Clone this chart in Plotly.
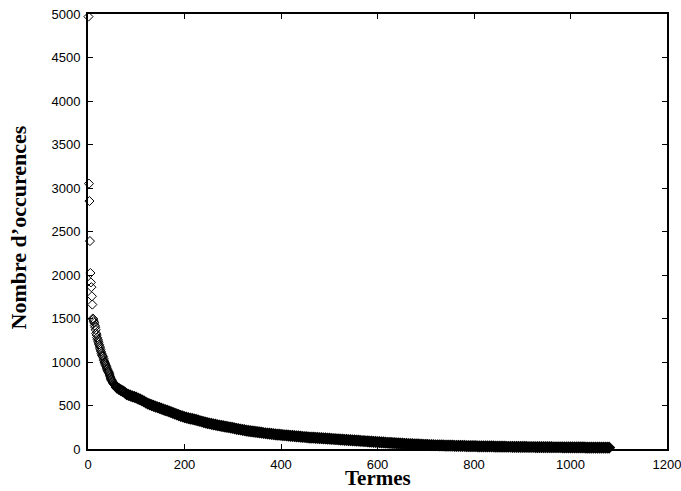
import plotly.graph_objects as go

# rank of each plotted term (first 60 individually, then every 4th rank)
termes = list(range(1, 61)) + list(range(64, 1081, 4))

occurrences = [
    4970, 3050, 2850, 2390, 2023, 1915, 1860, 1755, 1660, 1500,
    1490, 1470, 1450, 1420, 1400, 1370, 1330, 1310, 1280, 1260,
    1240, 1220, 1200, 1180, 1160, 1140, 1120, 1100, 1080, 1070,
    1060, 1040, 1020, 1000, 990, 975, 960, 945, 930, 915,
    900, 890, 880, 865, 850, 830, 815, 800, 790, 780,
    770, 760, 752, 745, 738, 730, 724, 718, 712, 706,
    # 64 .. step 4
    690, 676, 664, 650, 632, 622, 614, 606, 598, 590,
    580, 570, 558, 548, 534, 522, 512, 504, 496, 488,
    480, 472, 464, 456, 448, 440, 432, 424, 414, 406,
    398, 390, 382, 374, 366, 360, 354, 350, 346, 340,
    334, 328, 322, 316, 310, 304, 298, 293, 288, 284,
    279, 274, 270, 266, 262, 258, 254, 250, 246, 242,
    237, 232, 228, 224, 220, 216, 212, 208, 205, 202,
    199, 196, 193, 190, 187, 184, 181, 178, 176, 174,
    171, 169, 166, 164, 162, 160, 158, 156, 154, 152,
    150, 148, 146, 144, 142, 140, 138, 136, 134, 132,
    131, 130, 128, 127, 125, 124, 122, 121, 119, 118,
    116, 115, 113, 112, 110, 109, 107, 106, 104, 103,
    101, 100, 98, 97, 95, 94, 92, 91, 89, 88,
    86, 85, 83, 82, 80, 78, 77, 75, 74, 72,
    71, 70, 68, 67, 65, 64, 62, 61, 60, 58,
    57, 56, 55, 54, 53, 52, 51, 50, 49, 48,
    47, 46, 45, 44, 43, 43, 42, 41, 41, 40,
    40, 39, 38, 38, 37, 37, 36, 36, 35, 35,
    34, 34, 33, 33, 32, 32, 31, 31, 31, 30,
    30, 30, 29, 29, 29, 28, 28, 28, 27, 27,
    27, 26, 26, 26, 25, 25, 25, 25, 24, 24,
    24, 24, 23, 23, 23, 23, 22, 22, 22, 22,
    21, 21, 21, 21, 21, 20, 20, 20, 20, 20,
    19, 19, 19, 19, 19, 19, 18, 18, 18, 18,
    18, 18, 17, 17, 17, 17, 17, 17, 17, 16,
    16, 16, 16, 16, 16,
]

x_ticks = [0, 200, 400, 600, 800, 1000, 1200]
y_ticks = [0, 500, 1000, 1500, 2000, 2500, 3000, 3500, 4000, 4500, 5000]

n = min(len(termes), len(occurrences))
# thin outlines where diamonds are isolated, heavier where they pile up
line_widths = [1.0 if t < 60 else 2.2 for t in termes[:n]]

fig = go.Figure()
fig.add_trace(go.Scatter(
    x=termes[:n], y=occurrences[:n], mode="markers",
    marker=dict(symbol="diamond-open", size=7, color="black",
                line=dict(width=line_widths, color="black")),
    cliponaxis=False, showlegend=False,
))

axis_common = dict(
    showgrid=False, zeroline=False, showline=True, linecolor="black",
    mirror="ticks", ticks="inside", ticklen=5, automargin=False,
    tickcolor="black", tickwidth=1, ticklabeloverflow="allow",
    tickfont=dict(family="Liberation Sans, Arial, sans-serif", size=13, color="black"),
)

title_font = dict(family="Liberation Serif, Times New Roman, serif", size=21, color="black")

fig.update_layout(
    width=681, height=491,
    margin=dict(l=88, r=14, t=14, b=42, autoexpand=False),
    paper_bgcolor="white", plot_bgcolor="white",
    xaxis=dict(range=[0, 1200], tickvals=x_ticks, ticklabelstandoff=3,
               linewidth=1.5, **axis_common),
    yaxis=dict(range=[0, 5000], tickvals=y_ticks, ticklabelstandoff=3,
               linewidth=2, **axis_common),
    annotations=[
        dict(text="<b>Termes</b>", xref="paper", yref="paper", x=0.5, y=0,
             yshift=-29, yanchor="middle", showarrow=False, borderpad=0,
             font=title_font),
        dict(text="<b>Nombre d’occurences</b>", xref="paper", yref="paper",
             x=0, xshift=-70, y=0.5, yshift=4, xanchor="center", yanchor="middle",
             textangle=-90, showarrow=False, font=dict(title_font, size=22)),
    ],
)

fig.write_html("out.html")
